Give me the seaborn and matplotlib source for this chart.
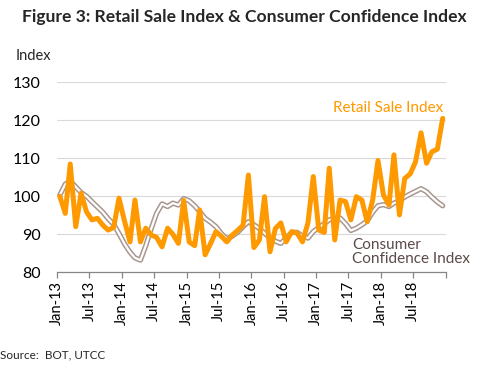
import pandas as pd
import seaborn as sns
import matplotlib.pyplot as plt

# monthly values, Jan-13 .. Dec-18
retail_sale = [
    100.0, 95.5, 108.5, 92.0, 100.8, 95.9, 93.8, 94.2, 92.4, 91.1, 91.8, 99.5,
    93.5, 88.0, 99.0, 88.0, 91.6, 89.8, 89.2, 86.7, 91.6, 90.0, 87.6, 98.9,
    88.0, 87.0, 96.4, 84.6, 87.5, 90.7, 89.5, 88.0, 89.8, 91.0, 92.4, 105.6,
    86.5, 88.5, 99.9, 85.4, 91.5, 93.0, 88.0, 90.7, 90.3, 88.0, 93.0, 105.2,
    91.1, 90.5, 107.4, 88.5, 99.0, 98.6, 93.8, 99.9, 99.0, 93.3, 99.0, 109.4,
    100.3, 97.7, 110.9, 95.1, 104.7, 105.9, 109.1, 116.7, 108.7, 111.7, 112.4, 120.5,
]
consumer_conf = [
    100.3, 103.2, 104.0, 102.5, 101.0, 100.0, 98.6, 97.2, 95.8, 94.1, 92.6, 90.2,
    87.5, 85.3, 83.8, 83.2, 87.0, 91.5, 95.5, 98.0, 97.3, 98.2, 97.7, 99.4,
    98.8, 97.5, 96.0, 94.2, 93.2, 92.0, 90.2, 88.8, 89.5, 90.5, 92.0, 93.3,
    92.5, 91.5, 90.3, 89.0, 88.2, 87.6, 89.0, 90.5, 90.5, 89.5, 89.0, 90.7,
    91.8, 92.8, 93.8, 94.2, 94.3, 92.8, 91.0, 91.6, 92.5, 93.5, 95.8, 97.5,
    97.8, 97.3, 98.2, 98.8, 99.8, 100.6, 101.3, 102.0, 101.2, 99.8, 98.5, 97.5,
]
tick_labels = ["Jan-13", "Jul-13", "Jan-14", "Jul-14", "Jan-15", "Jul-15",
               "Jan-16", "Jul-16", "Jan-17", "Jul-17", "Jan-18", "Jul-18", ""]
y_ticks = [80, 90, 100, 110, 120, 130]

ORANGE = "#ff9900"
CCI_EDGE = "#a8968f"

months = pd.date_range("2013-01-01", periods=len(retail_sale), freq="MS") + pd.Timedelta(days=14)
df = pd.DataFrame({"date": months, "retail": retail_sale, "cci": consumer_conf})

sns.set_style("white")
plt.rcParams["font.family"] = ["Lato", "DejaVu Sans"]

fig = plt.figure(figsize=(5, 3.7), dpi=100)
ax = fig.add_axes([0.1146, 0.2641, 0.7768, 0.5135])

# consumer confidence: outlined line (brown edge, white core)
sns.lineplot(data=df, x="date", y="cci", ax=ax, color=CCI_EDGE, linewidth=3.8, zorder=2)
sns.lineplot(data=df, x="date", y="cci", ax=ax, color="white", linewidth=1.6, zorder=3)
sns.lineplot(data=df, x="date", y="retail", ax=ax, color=ORANGE, linewidth=3.6, zorder=4,
             solid_joinstyle="round", solid_capstyle="round")

ax.set_ylim(80, 130)
ax.set_xlim(pd.Timestamp("2013-01-01"), pd.Timestamp("2019-01-01"))
ax.set_yticks(y_ticks)
ax.set_yticklabels([str(v) for v in y_ticks], fontsize=11.5, color="black")
xt = pd.date_range("2013-01-01", "2019-01-01", freq="6MS")
ax.set_xticks(xt)
ax.set_xticklabels(tick_labels, rotation=90, fontsize=10.5, color="black")
ax.set_xlabel("")
ax.set_ylabel("")

ax.grid(axis="y", color="#d9d9d9", linewidth=0.8)
ax.grid(axis="x", visible=False)
for s in ["left", "right", "top"]:
    ax.spines[s].set_visible(False)
ax.spines["bottom"].set_color("#868686")
ax.spines["bottom"].set_linewidth(0.9)
ax.tick_params(axis="x", direction="out", length=4, width=0.9, color="#868686", pad=2, bottom=True)
ax.tick_params(axis="y", length=0, pad=12)

ax.text(0.71, 0.845, "Retail Sale Index", transform=ax.transAxes, color=ORANGE, fontsize=11)
ax.text(0.76, 0.05, "Consumer\nConfidence Index", transform=ax.transAxes, color="#5a4a48",
        fontsize=11, linespacing=1.0)

fig.text(0.044, 0.955, "Figure 3: Retail Sale Index & Consumer Confidence Index",
         fontsize=12.6, fontweight="bold", va="center")
fig.text(0.032, 0.85, "Index", fontsize=10.5, va="center")
fig.text(0.0, 0.04, "Source:  BOT, UTCC", fontsize=8.5, va="center")

fig.savefig("out.png", dpi=100)
